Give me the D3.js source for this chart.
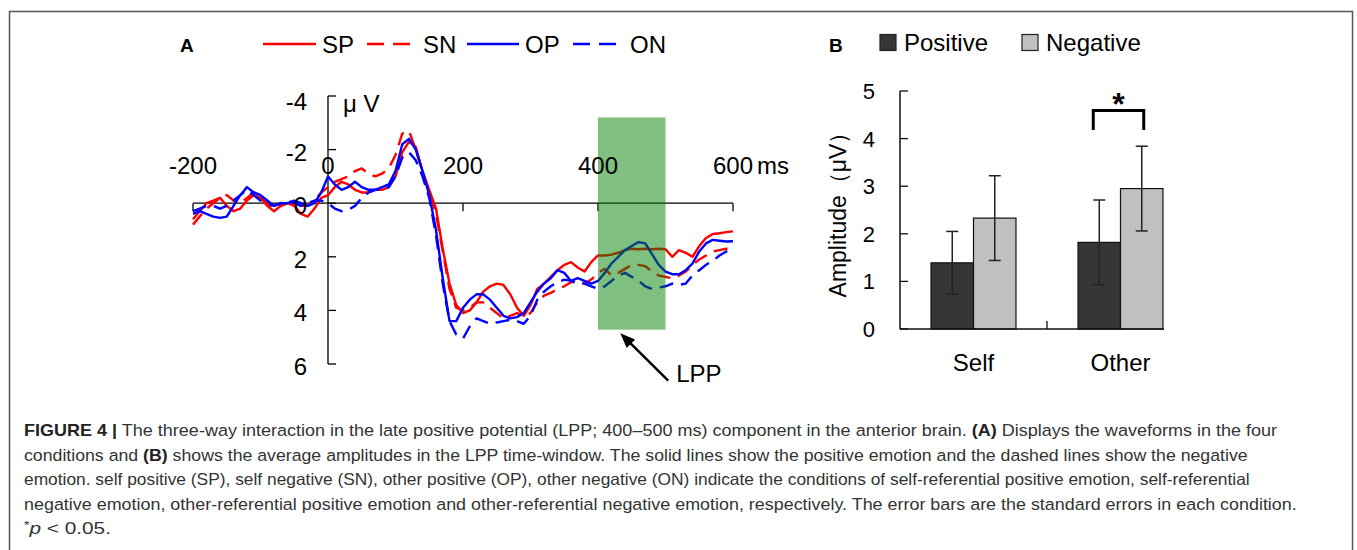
<!DOCTYPE html>
<html>
<head>
<meta charset="utf-8">
<script src="https://cdn.jsdelivr.net/npm/d3@7"></script>
<style>
  html, body { margin: 0; padding: 0; background: #fff; }
  svg { display: block; }
  text { font-family: "Liberation Sans", Arial, sans-serif; }
</style>
</head>
<body>
<svg id="chart" width="1357" height="550"></svg>
<script>
// ---------------- DATA ----------------
// Panel A: ERP waveforms, -200..600 ms sampled every 10 ms (µV, positive plotted down)
const times = d3.range(-200, 601, 10);
const SP = [0.6,0.3,0.0,-0.1,-0.2,0.1,0.3,0.2,-0.1,-0.3,-0.2,0.1,0.3,0.1,0.0,0.1,0.4,0.5,0.2,-0.2,
  -0.3,-0.6,-0.8,-0.7,-0.5,-0.4,-0.4,-0.5,-0.5,-0.6,
  -1.0,-1.9,-2.3,-2.1,-1.2,-0.5,0.2,1.7,3.0,3.8,
  4.1,4.0,3.7,3.3,3.1,3.0,3.05,3.4,3.9,4.2,
  3.8,3.2,3.0,2.75,2.5,2.3,2.2,2.4,2.55,2.2,
  1.95,1.95,1.92,1.85,1.75,1.7,1.72,1.7,1.72,1.7,
  1.72,2.0,1.75,1.85,2.0,1.6,1.3,1.15,1.12,1.08,1.05];
const SN = [0.8,0.5,0.2,0.0,-0.2,-0.3,-0.1,0.0,-0.2,-0.4,-0.3,0.0,0.2,0.1,0.0,0.0,0.1,0.1,-0.1,-0.4,
  -0.6,-0.8,-0.9,-1.0,-1.2,-1.3,-1.1,-1.0,-1.1,-1.3,
  -1.8,-2.6,-2.7,-2.0,-1.2,-0.4,0.4,1.8,3.2,3.9,
  4.0,3.9,3.7,3.7,3.9,4.1,4.3,4.2,4.1,4.2,
  4.1,3.7,3.45,3.35,3.2,3.1,2.95,2.9,3.0,2.85,
  2.6,2.45,2.7,2.6,2.45,2.3,2.3,2.35,2.55,2.7,
  2.75,2.8,2.7,2.55,2.3,2.1,1.95,1.8,1.75,1.7,1.7];
const OP = [0.4,0.3,0.4,0.5,0.55,0.5,0.1,-0.3,-0.6,-0.4,-0.3,-0.1,0.1,0.0,0.0,-0.1,0.0,0.1,0.0,-0.4,
  -1.0,-0.7,-0.5,-0.6,-0.8,-0.6,-0.5,-0.5,-0.6,-0.7,
  -1.2,-2.2,-2.4,-2.0,-1.2,-0.3,1.0,2.8,4.4,4.4,
  3.9,3.6,3.4,3.4,3.6,3.9,4.2,4.3,4.25,4.1,
  3.7,3.3,3.0,2.8,2.5,2.6,2.9,2.8,2.9,3.0,
  2.9,2.6,2.25,2.0,1.75,1.6,1.45,1.5,1.9,2.3,
  2.55,2.65,2.65,2.5,2.25,1.8,1.5,1.37,1.4,1.43,1.42];
const ON = [0.3,0.2,0.1,0.1,0.2,0.1,-0.1,-0.3,-0.5,-0.3,-0.1,0.0,0.1,0.0,-0.1,0.0,0.1,0.0,-0.1,-0.1,
  0.0,0.2,0.3,0.25,0.1,-0.2,-0.4,-0.5,-0.5,-0.6,
  -1.0,-1.7,-1.9,-1.6,-1.0,-0.2,1.2,3.0,4.4,4.9,
  5.05,4.6,4.3,4.4,4.5,4.45,4.4,4.35,4.4,4.5,
  4.2,3.6,3.3,3.1,2.95,2.85,2.9,3.0,3.0,3.1,
  3.2,3.1,2.9,2.7,2.6,2.75,2.9,3.1,3.2,3.15,
  3.1,3.0,3.05,3.0,2.7,2.5,2.3,2.15,1.95,1.8,1.75];
const seriesNames = ["SP", "SN", "OP", "ON"];
const xTicksA = [-200, 0, 200, 400, 600];
const yTicksA = [-4, -2, 0, 2, 4, 6];
const lppWindow = [400, 500];
const lppBand = [-3.2, 4.72];

// Panel B: mean LPP amplitudes ± SE
const categories = ["Self", "Other"];
const emotions = ["Positive", "Negative"];
const positiveMeans = [1.39, 1.82];
const negativeMeans = [2.33, 2.95];
const positiveSE = [0.66, 0.89];
const negativeSE = [0.89, 0.89];
const yTicksB = [0, 1, 2, 3, 4, 5];

// ---------------- DRAW ----------------
const svg = d3.select("#chart");

// frame
svg.append("path")
  .attr("d", "M9.5,560 V11.5 H1352.5 V560")
  .attr("fill", "none").attr("stroke", "#555").attr("stroke-width", 1.5);

// ===== Panel A =====
const xA = d3.scaleLinear().domain([-200, 600]).range([193, 733]);
const yA = d3.scaleLinear().domain([-4, 6]).range([96, 364]);
const styles = {
  SP: {color: "#ff0000", dash: null},
  SN: {color: "#ff0000", dash: "14,8"},
  OP: {color: "#0000ff", dash: null},
  ON: {color: "#0000ff", dash: "14,8"}
};
const seriesData = {SP, SN, OP, ON};

const gA = svg.append("g");
// x axis (zero line)
gA.append("line").attr("x1", xA(-200)).attr("x2", xA(600)).attr("y1", yA(0)).attr("y2", yA(0))
  .attr("stroke", "#000").attr("stroke-width", 1.3);
xTicksA.filter(t => t !== 0).forEach(t => {
  gA.append("line").attr("x1", xA(t)).attr("x2", xA(t)).attr("y1", yA(0)).attr("y2", yA(0) + 8)
    .attr("stroke", "#000").attr("stroke-width", 1.3);
});
// y axis
gA.append("line").attr("x1", xA(0)).attr("x2", xA(0)).attr("y1", yA(-4)).attr("y2", yA(6))
  .attr("stroke", "#000").attr("stroke-width", 1.3);
yTicksA.forEach(v => {
  gA.append("line").attr("x1", xA(0)).attr("x2", xA(0) + 8).attr("y1", yA(v)).attr("y2", yA(v))
    .attr("stroke", "#000").attr("stroke-width", 1.3);
});

// waveforms
const line = d3.line().x((d, i) => xA(times[i])).y(d => yA(d));
seriesNames.forEach(n => {
  gA.append("path").datum(seriesData[n])
    .attr("d", line)
    .attr("fill", "none")
    .attr("stroke", styles[n].color)
    .attr("stroke-width", 2.4)
    .attr("stroke-dasharray", styles[n].dash)
    .attr("stroke-linejoin", "round");
});

// LPP window
gA.append("rect")
  .attr("x", xA(lppWindow[0])).attr("width", xA(lppWindow[1]) - xA(lppWindow[0]))
  .attr("y", yA(lppBand[0])).attr("height", yA(lppBand[1]) - yA(lppBand[0]))
  .attr("fill", "rgb(0,128,0)").attr("fill-opacity", 0.5);

// tick labels
xTicksA.forEach(t => {
  gA.append("text").attr("x", xA(t)).attr("y", 174).attr("text-anchor", "middle")
    .attr("font-size", 24).text(t);
});
gA.append("text").attr("x", xA(600) + 24).attr("y", 174).attr("font-size", 24).text("ms");
yTicksA.forEach(v => {
  gA.append("text").attr("x", xA(0) - 21).attr("y", yA(v) + (v === -4 ? 14 : 11))
    .attr("text-anchor", "end").attr("font-size", 24).text(v);
});
gA.append("text").attr("x", xA(0) + 15).attr("y", 112).attr("font-size", 24).text("μ V");

// arrow + LPP label
const arrowTail = [504, 6.62], arrowTip = [433, 4.85];
const ax1 = xA(arrowTail[0]), ay1 = yA(arrowTail[1]), ax2 = xA(arrowTip[0]), ay2 = yA(arrowTip[1]);
const ang = Math.atan2(ay2 - ay1, ax2 - ax1);
const hl = 15, hw = 6;
gA.append("line").attr("x1", ax1).attr("y1", ay1)
  .attr("x2", ax2 - Math.cos(ang) * hl * 0.8).attr("y2", ay2 - Math.sin(ang) * hl * 0.8)
  .attr("stroke", "#000").attr("stroke-width", 2.5);
const bx = ax2 - Math.cos(ang) * hl, by = ay2 - Math.sin(ang) * hl;
gA.append("path")
  .attr("d", `M${ax2},${ay2} L${bx - Math.sin(ang) * hw},${by + Math.cos(ang) * hw} L${bx + Math.sin(ang) * hw},${by - Math.cos(ang) * hw} Z`)
  .attr("fill", "#000");
gA.append("text").attr("x", ax1 + 8).attr("y", 382).attr("font-size", 24).text("LPP");

// panel label + legend
svg.append("text").attr("x", 180).attr("y", 52).attr("font-size", 19).attr("font-weight", "bold").text("A");
const legA = [
  {n: "SP", x: 263, len: 53, tx: 322},
  {n: "SN", x: 367, len: 43, tx: 423},
  {n: "OP", x: 467, len: 52, tx: 525},
  {n: "ON", x: 573, len: 43, tx: 630}
];
legA.forEach(l => {
  svg.append("line").attr("x1", l.x).attr("x2", l.x + l.len).attr("y1", 44).attr("y2", 44)
    .attr("stroke", styles[l.n].color).attr("stroke-width", 2.5)
    .attr("stroke-dasharray", styles[l.n].dash ? "17,9" : null);
  svg.append("text").attr("x", l.tx).attr("y", 53).attr("font-size", 24).text(l.n);
});

// ===== Panel B =====
const yB = d3.scaleLinear().domain([0, 5]).range([329, 91]);
const xB = d3.scaleBand().domain(categories).range([900, 1194]);
const bw = xB.bandwidth();
const xSub = d3.scaleBand().domain(emotions).range([bw * 0.211, bw * 0.789]);
const fills = {Positive: "#363636", Negative: "#c0c0c0"};
const barData = [];
categories.forEach((c, i) => {
  barData.push({c, e: "Positive", v: positiveMeans[i], se: positiveSE[i]});
  barData.push({c, e: "Negative", v: negativeMeans[i], se: negativeSE[i]});
});
const gB = svg.append("g");

gB.selectAll("rect.bar").data(barData).enter().append("rect")
  .attr("x", d => xB(d.c) + xSub(d.e))
  .attr("width", xSub.bandwidth())
  .attr("y", d => yB(d.v))
  .attr("height", d => yB(0) - yB(d.v))
  .attr("fill", d => fills[d.e])
  .attr("stroke", "#111").attr("stroke-width", 1.2);

// error bars
barData.forEach(d => {
  const cx = xB(d.c) + xSub(d.e) + xSub.bandwidth() / 2;
  gB.append("line").attr("x1", cx).attr("x2", cx).attr("y1", yB(d.v + d.se)).attr("y2", yB(d.v - d.se))
    .attr("stroke", "#222").attr("stroke-width", 1.5);
  [d.v + d.se, d.v - d.se].forEach(v => {
    gB.append("line").attr("x1", cx - 6).attr("x2", cx + 6).attr("y1", yB(v)).attr("y2", yB(v))
      .attr("stroke", "#222").attr("stroke-width", 1.5);
  });
});

// axes
const axisEnd = xB("Other") + xSub("Negative") + xSub.bandwidth() + 1;
gB.append("line").attr("x1", 900).attr("x2", axisEnd).attr("y1", yB(0)).attr("y2", yB(0))
  .attr("stroke", "#111").attr("stroke-width", 1.5);
gB.append("line").attr("x1", xB("Other")).attr("x2", xB("Other")).attr("y1", yB(0)).attr("y2", yB(0) - 8)
  .attr("stroke", "#111").attr("stroke-width", 1.3);
gB.append("line").attr("x1", 900).attr("x2", 900).attr("y1", yB(0)).attr("y2", yB(5))
  .attr("stroke", "#111").attr("stroke-width", 1.5);
yTicksB.forEach(v => {
  gB.append("line").attr("x1", 900).attr("x2", 908).attr("y1", yB(v)).attr("y2", yB(v))
    .attr("stroke", "#111").attr("stroke-width", 1.3);
  gB.append("text").attr("x", 875).attr("y", yB(v) + 8).attr("text-anchor", "end")
    .attr("font-size", 22).text(v);
});
categories.forEach(c => {
  gB.append("text").attr("x", xB(c) + bw / 2).attr("y", 371).attr("text-anchor", "middle")
    .attr("font-size", 24).text(c);
});
gB.append("text").attr("transform", `translate(846,${yB(2.5) - 1}) rotate(-90)`)
  .attr("text-anchor", "middle").attr("font-size", 23).text("Amplitude（μV）");

// significance bracket
const bx1 = xB("Other") + xSub("Positive") + xSub.bandwidth() / 2 - 6;
const bx2 = xB("Other") + xSub("Negative") + xSub.bandwidth() / 2 + 2;
gB.append("path")
  .attr("d", `M${bx1},${yB(4.18)} V${yB(4.59)} H${bx2} V${yB(4.18)}`)
  .attr("fill", "none").attr("stroke", "#000").attr("stroke-width", 3);
gB.append("text").attr("x", (bx1 + bx2) / 2).attr("y", yB(4.59) + 4).attr("text-anchor", "middle")
  .attr("font-size", 32).attr("font-weight", "bold").text("*");

// legend B
svg.append("text").attr("x", 829).attr("y", 52).attr("font-size", 19).attr("font-weight", "bold").text("B");
const legB = [{e: "Positive", x: 880, tx: 904}, {e: "Negative", x: 1022, tx: 1046}];
legB.forEach(l => {
  svg.append("rect").attr("x", l.x).attr("y", 34.5).attr("width", 16).attr("height", 16)
    .attr("fill", fills[l.e]).attr("stroke", "#222").attr("stroke-width", 1.2);
  svg.append("text").attr("x", l.tx).attr("y", 51).attr("font-size", 24).text(l.e);
});

// ===== Caption =====
const captionLines = [
  {y: 436, w: 1254, parts: [["FIGURE 4 |", "b"], [" The three-way interaction in the late positive potential (LPP; 400–500 ms) component in the anterior brain. "], ["(A)", "b"], [" Displays the waveforms in the four"]]},
  {y: 460.5, w: 1224, parts: [["conditions and "], ["(B)", "b"], [" shows the average amplitudes in the LPP time-window. The solid lines show the positive emotion and the dashed lines show the negative"]]},
  {y: 485, w: 1227, parts: [["emotion. self positive (SP), self negative (SN), other positive (OP), other negative (ON) indicate the conditions of self-referential positive emotion, self-referential"]]},
  {y: 509.5, w: 1273, parts: [["negative emotion, other-referential positive emotion and other-referential negative emotion, respectively. The error bars are the standard errors in each condition."]]},
  {y: 534, w: 87, parts: [["*", "sup"], ["p", "i"], [" < 0.05."]]}
];
captionLines.forEach(L => {
  const t = svg.append("text").attr("x", 0).attr("y", 0)
    .attr("font-family", "'Liberation Sans Narrow', 'Liberation Sans', Arial, sans-serif")
    .attr("font-size", 16.5).attr("fill", "#333");
  L.parts.forEach(p => {
    const s = t.append("tspan").text(p[0]);
    if (p[1] === "b") s.attr("font-weight", "bold").attr("fill", "#222");
    if (p[1] === "i") s.attr("font-style", "italic");
    if (p[1] === "sup") s.attr("font-size", 11).attr("dy", -5);
    if (p[1] === "i") s.attr("dy", 5);
  });
  const w = t.node().getComputedTextLength();
  t.attr("transform", `translate(24,${L.y}) scale(${L.w / w},1)`);
});
</script>
</body>
</html>
